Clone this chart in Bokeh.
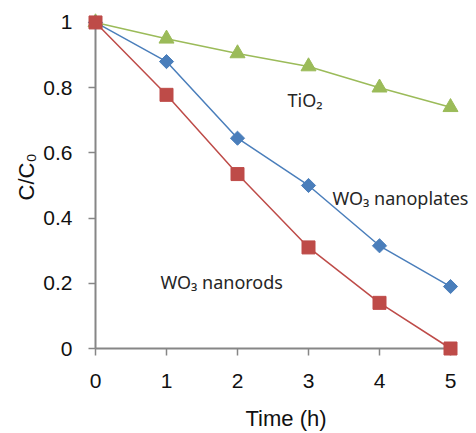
import math
from bokeh.plotting import figure
from bokeh.models import Range1d, FixedTicker, Label, Title
from bokeh.embed import file_html
from bokeh.resources import INLINE

time_h = [0, 1, 2, 3, 4, 5]
tio2 = [1.0, 0.95, 0.905, 0.865, 0.80, 0.74]
wo3_nanoplates = [1.0, 0.88, 0.645, 0.50, 0.315, 0.19]
wo3_nanorods = [1.0, 0.778, 0.535, 0.31, 0.14, 0.0]

y_ticks = [0, 0.2, 0.4, 0.6, 0.8, 1.0]
y_tick_labels = ["0", "0.2", "0.4", "0.6", "0.8", "1"]
x_ticks = [0, 1, 2, 3, 4, 5]

GREEN = "#9BBB59"
BLUE = "#4A7EBB"
RED = "#BE4B48"
AXIS = "#868686"

p = figure(width=476, height=433, output_backend="svg", toolbar_location=None,
           x_range=Range1d(0, 5.366), y_range=Range1d(0, 1.052),
           min_border_left=95, min_border_right=0, min_border_top=5, min_border_bottom=84)
p.outline_line_color = None
p.xgrid.visible = False
p.ygrid.visible = False

for ax in (p.xaxis[0], p.yaxis[0]):
    ax.axis_line_color = AXIS
    ax.axis_line_width = 2
    ax.major_tick_line_color = AXIS
    ax.major_tick_line_width = 1.5
    ax.major_tick_in = 0
    ax.major_tick_out = 7
    ax.minor_tick_line_color = None
    ax.major_label_text_font = "Liberation Sans"
    ax.major_label_text_font_size = "21px"
    ax.major_label_text_color = "#111111"

p.xaxis.bounds = (0, 5)
p.yaxis.bounds = (0, 1)
p.xaxis.ticker = FixedTicker(ticks=x_ticks)
p.yaxis.ticker = FixedTicker(ticks=y_ticks)
p.yaxis.major_label_overrides = {t: s for t, s in zip(y_ticks, y_tick_labels)}
p.xaxis.major_label_standoff = 18
p.yaxis.major_label_standoff = 16

p.xaxis.axis_label = "Time (h)"
p.xaxis.axis_label_text_font = "Liberation Sans"
p.xaxis.axis_label_text_font_size = "22px"
p.xaxis.axis_label_text_font_style = "normal"
p.xaxis.axis_label_text_color = "#111111"
p.xaxis.axis_label_standoff = 15

p.add_layout(Title(text="C/C\u2080", text_font="Liberation Sans", text_font_size="22px",
                   text_font_style="normal", text_color="#111111", align="center",
                   offset=9, standoff=4), "left")

series = [
    (tio2, GREEN, "triangle", 15, 0),
    (wo3_nanoplates, BLUE, "square", 10, math.pi / 4),
    (wo3_nanorods, RED, "square", 13, 0),
]
for ys, col, mk, sz, ang in series:
    r = p.line(time_h, ys, line_color=col, line_width=1.5)
    r.level = "overlay"
    s = p.scatter(time_h, ys, marker=mk, size=sz, angle=ang,
                  fill_color=col, line_color=col)
    s.level = "overlay"

LBL_FONT = "Noto Sans"
LBL_COL = "#262626"

def chem_label(x, y, text):
    p.add_layout(Label(x=x, y=y, text=text, text_font=LBL_FONT, text_font_size="18px",
                       text_color=LBL_COL, text_align="left",
                       text_baseline="alphabetic"))

chem_label(2.704, 0.761, "TiO\u2082")
chem_label(3.338, 0.462, "WO\u2083 nanoplates")
chem_label(0.915, 0.205, "WO\u2083 nanorods")

open("out.html", "w").write(file_html(p, INLINE))
